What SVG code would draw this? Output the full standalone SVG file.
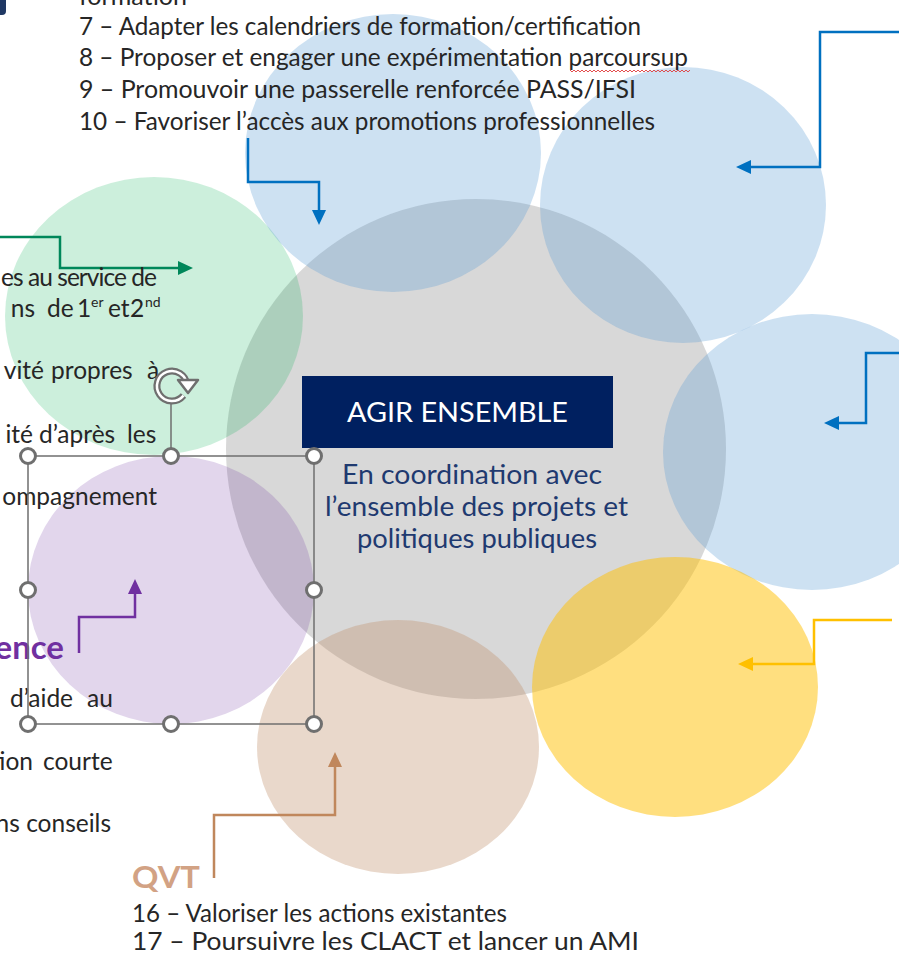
<svg xmlns="http://www.w3.org/2000/svg" width="899" height="954" viewBox="0 0 899 954">
<style>
.t{font-family:Lato,"Open Sans","Liberation Sans",sans-serif;font-size:24.5px;fill:#262626}
.c{font-family:Lato,"Open Sans","Liberation Sans",sans-serif}
.conn{fill:none;stroke-width:2.5}
.hdl{fill:#fff;stroke:#6f6f6f;stroke-width:3}
</style>
<defs>
<marker id="mBlue" markerUnits="userSpaceOnUse" markerWidth="16" markerHeight="16" refX="7" refY="7" orient="auto"><path d="M0,0 L15,7 L0,14 Z" fill="#0070c0"/></marker>
<marker id="mYellow" markerUnits="userSpaceOnUse" markerWidth="16" markerHeight="16" refX="7" refY="7" orient="auto"><path d="M0,0 L15,7 L0,14 Z" fill="#ffc000"/></marker>
<marker id="mGreen" markerUnits="userSpaceOnUse" markerWidth="16" markerHeight="16" refX="7" refY="7" orient="auto"><path d="M0,0 L15,7 L0,14 Z" fill="#00875a"/></marker>
<marker id="mPurple" markerUnits="userSpaceOnUse" markerWidth="16" markerHeight="16" refX="7" refY="7" orient="auto"><path d="M0,0 L15,7 L0,14 Z" fill="#7030a0"/></marker>
<marker id="mBrown" markerUnits="userSpaceOnUse" markerWidth="16" markerHeight="16" refX="7" refY="7" orient="auto"><path d="M0,0 L15,7 L0,14 Z" fill="#c0875c"/></marker>
<pattern id="squig" patternUnits="userSpaceOnUse" x="0" y="69" width="4" height="4"><path d="M0,3 L2,1 L4,3" fill="none" stroke="#e03c3c" stroke-width="0.9"/></pattern>
</defs>

<path id="corner" d="M0 0 H6 V11 Q6 15 2 15 H0 Z" fill="#1f3864"/>

<g id="circles">
<ellipse id="c-center" cx="476" cy="449" rx="250" ry="250" fill="#7f7f7f" fill-opacity="0.3"/>
<ellipse id="c-green" cx="154" cy="316" rx="149" ry="139" fill="#00b050" fill-opacity="0.2"/>
<ellipse id="c-purple" cx="171" cy="590" rx="143" ry="134" fill="#7030a0" fill-opacity="0.2"/>
<ellipse id="c-brown" cx="398" cy="747" rx="141" ry="127" fill="#c0906a" fill-opacity="0.35"/>
<ellipse id="c-blue-top" cx="393" cy="153" rx="148" ry="139" fill="#5b9bd5" fill-opacity="0.3"/>
<ellipse id="c-blue-topright" cx="683" cy="205" rx="143" ry="138" fill="#5b9bd5" fill-opacity="0.3"/>
<ellipse id="c-blue-right" cx="812" cy="452" rx="149" ry="138" fill="#5b9bd5" fill-opacity="0.3"/>
<ellipse id="c-yellow" cx="675" cy="687" rx="143" ry="130" fill="#ffc000" fill-opacity="0.5"/>
</g>

<g id="connectors">
<polyline class="conn" stroke="#0070c0" points="248,138 248,182 319,182 319,217" marker-end="url(#mBlue)"/>
<polyline class="conn" stroke="#0070c0" points="899,32 820,32 820,167 744,167" marker-end="url(#mBlue)"/>
<polyline class="conn" stroke="#0070c0" points="899,353 866,353 866,423 832,423" marker-end="url(#mBlue)"/>
<polyline class="conn" stroke="#ffc000" points="892,620 814,620 814,664 746,664" marker-end="url(#mYellow)"/>
<polyline class="conn" stroke="#00875a" points="0,237 60,237 60,268 185,268" marker-end="url(#mGreen)"/>
<polyline class="conn" stroke="#7030a0" points="79,653 79,617 135,617 135,587" marker-end="url(#mPurple)"/>
<polyline class="conn" stroke="#c0875c" points="214,878 214,815 335,815 335,760" marker-end="url(#mBrown)"/>
</g>

<g id="center-node">
<rect x="302" y="376" width="311" height="72" fill="#002060"/>
<text class="c" x="347" y="422" font-size="27" fill="#ffffff" textLength="221" lengthAdjust="spacingAndGlyphs">AGIR ENSEMBLE</text>
<text class="c" x="342" y="484" font-size="26" fill="#1f3a70" textLength="260" lengthAdjust="spacingAndGlyphs">En coordination avec</text>
<text class="c" x="325" y="516" font-size="26" fill="#1f3a70" textLength="303" lengthAdjust="spacingAndGlyphs">l’ensemble des projets et</text>
<text class="c" x="357" y="548" font-size="26" fill="#1f3a70" textLength="240" lengthAdjust="spacingAndGlyphs">politiques publiques</text>
</g>

<g id="top-text">
<text class="t" x="79" y="5" textLength="108" lengthAdjust="spacingAndGlyphs">formation</text>
<text class="t" x="79" y="35" textLength="562" lengthAdjust="spacingAndGlyphs">7 – Adapter les calendriers de formation/certification</text>
<text class="t" x="79" y="66" textLength="609" lengthAdjust="spacingAndGlyphs">8 – Proposer et engager une expérimentation parcoursup</text>
<rect x="570" y="69" width="120" height="4" fill="url(#squig)"/>
<text class="t" x="79" y="98" textLength="557" lengthAdjust="spacingAndGlyphs">9 – Promouvoir une passerelle renforcée PASS/IFSI</text>
<text class="t" x="79" y="130" textLength="576" lengthAdjust="spacingAndGlyphs">10 – Favoriser l’accès aux promotions professionnelles</text>
</g>

<g id="left-text">
<text class="t" x="1" y="286" textLength="156" lengthAdjust="spacing">es au service de</text>
<text class="t" x="35" y="317" text-anchor="end">ns</text>
<text class="t" x="47" y="317">de</text>
<text class="t" x="77" y="317">1</text>
<text class="t" x="91" y="307" style="font-size:14px">er</text>
<text class="t" x="108" y="317">et</text>
<text class="t" x="130" y="317">2</text>
<text class="t" x="145" y="307" style="font-size:14px">nd</text>
<text class="t" x="44" y="379" text-anchor="end">vité</text>
<text class="t" x="51" y="379">propres</text>
<text class="t" x="147" y="379">à</text>
<text class="t" x="33" y="443" text-anchor="end">ité</text>
<text class="t" x="39" y="443">d’après</text>
<text class="t" x="127" y="443">les</text>
<text class="t" x="157" y="505" text-anchor="end">ompagnement</text>
<text class="c" x="64" y="659" text-anchor="end" font-size="33" font-weight="bold" fill="#7030a0">ence</text>
<text class="t" x="10" y="707">d’aide</text>
<text class="t" x="87" y="707">au</text>
<text class="t" x="33" y="770" text-anchor="end">tion</text>
<text class="t" x="43" y="770">courte</text>
<text class="t" x="111" y="832" text-anchor="end">ns conseils</text>
</g>

<g id="bottom-text">
<text class="c" x="132" y="888" font-size="30" font-weight="bold" fill="#d2a284" textLength="68" lengthAdjust="spacingAndGlyphs">QVT</text>
<text class="t" x="132" y="922" textLength="375" lengthAdjust="spacingAndGlyphs">16 – Valoriser les actions existantes</text>
<text class="t" x="132" y="950" textLength="507" lengthAdjust="spacingAndGlyphs">17 – Poursuivre les CLACT et lancer un AMI</text>
</g>

<g id="selection">
<rect x="28" y="456" width="286" height="268" fill="none" stroke="#6f6f6f" stroke-width="1.5"/>
<line x1="171" y1="402" x2="171" y2="456" stroke="#6f6f6f" stroke-width="1.5"/>
<path d="M183.5 395.6 A15 15 0 1 1 186.9 384.7" fill="none" stroke="#6f6f6f" stroke-width="7"/>
<path d="M183.5 395.6 A15 15 0 1 1 186.9 384.7" fill="none" stroke="#ffffff" stroke-width="2.5"/>
<path d="M178 380 L198 380 L188 393 Z" fill="#ffffff" stroke="#6f6f6f" stroke-width="2.5" stroke-linejoin="round"/>
<circle class="hdl" cx="28" cy="456" r="7.5"/>
<circle class="hdl" cx="171" cy="456" r="7.5"/>
<circle class="hdl" cx="314" cy="456" r="7.5"/>
<circle class="hdl" cx="28" cy="590" r="7.5"/>
<circle class="hdl" cx="314" cy="590" r="7.5"/>
<circle class="hdl" cx="28" cy="724" r="7.5"/>
<circle class="hdl" cx="171" cy="724" r="7.5"/>
<circle class="hdl" cx="314" cy="724" r="7.5"/>
</g>
</svg>
